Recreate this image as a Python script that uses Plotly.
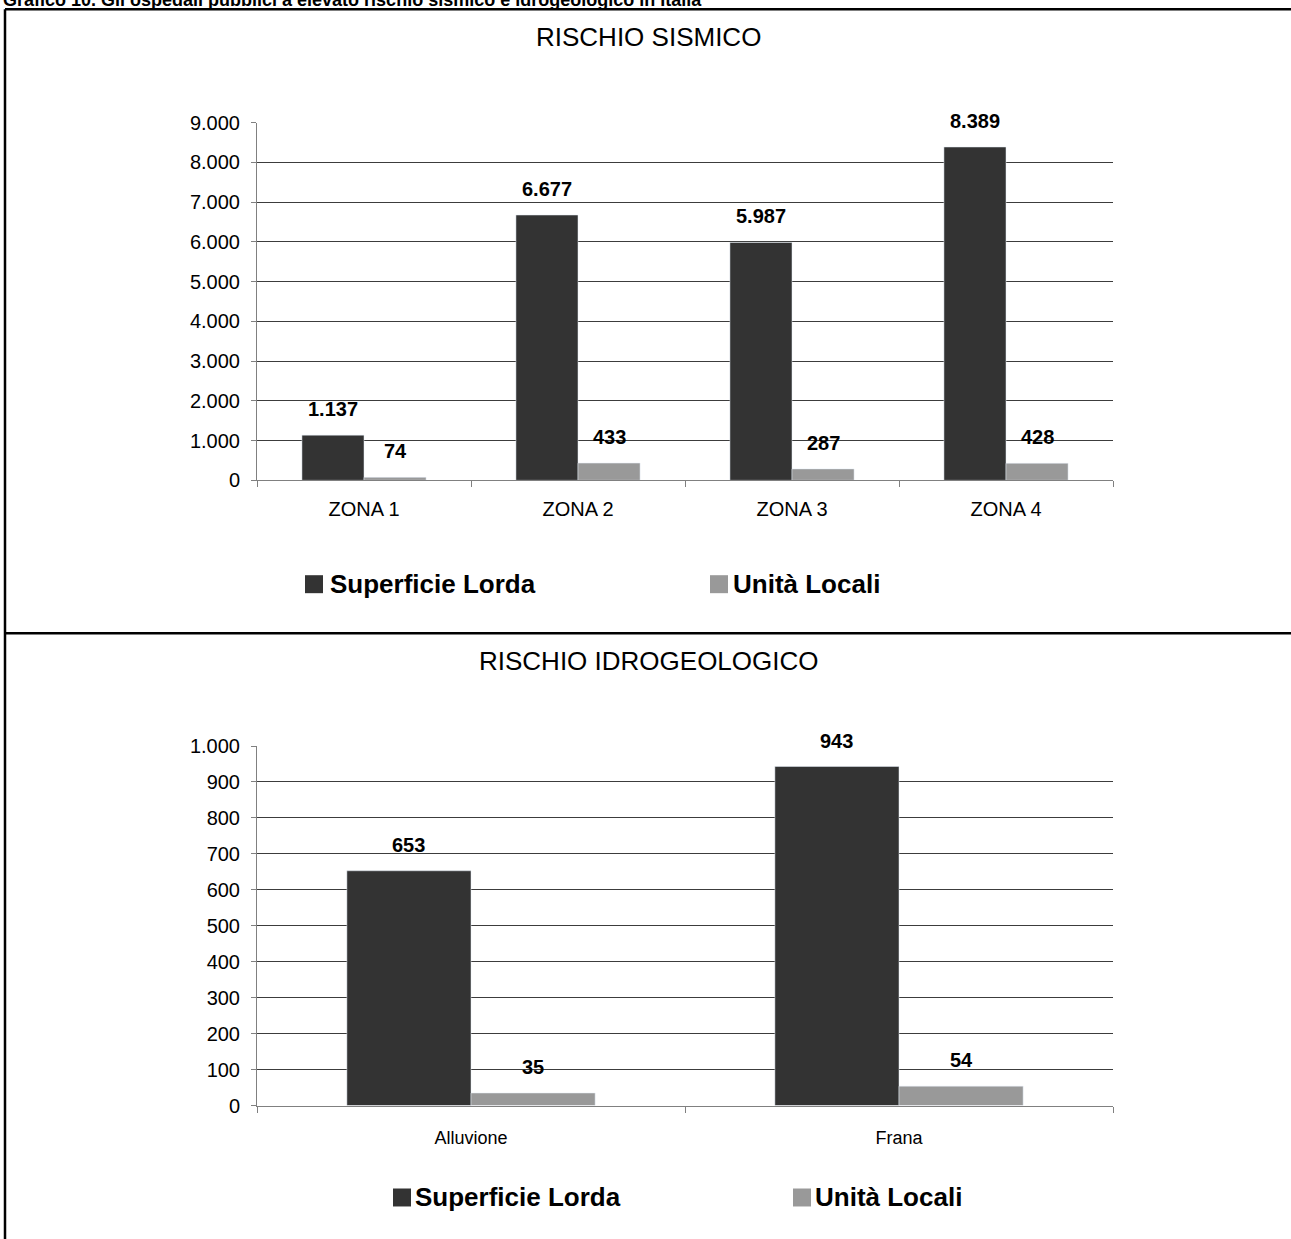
import plotly.graph_objects as go

# --- data -------------------------------------------------------------
zone = ["ZONA 1", "ZONA 2", "ZONA 3", "ZONA 4"]
superficie_sismico = [1137, 6677, 5987, 8389]
unita_sismico = [74, 433, 287, 428]

eventi_idro = ["Alluvione", "Frana"]
superficie_idro = [653, 943]
unita_idro = [35, 54]

serie = ["Superficie Lorda", "Unità Locali"]
titolo = "Grafico 10. Gli ospedali pubblici a elevato rischio sismico e idrogeologico in Italia"
titolo_sismico = "RISCHIO SISMICO"
titolo_idro = "RISCHIO IDROGEOLOGICO"

# --- styling ----------------------------------------------------------
W, H = 1291, 1255
# the page places the figure slightly lower and a bit shorter than its nominal size
PAGE_SCALE, PAGE_TOP = 0.9836, 9.15
FONT = "Liberation Sans, Arial, sans-serif"
DARK = "#333333"
GREY = "#999999"
AXIS = "#808080"
GRID = "#3c3c3c"
BARGAP = 0.42


def px(x):
    return x / W


def py(y):
    # page pixel row -> paper fraction
    return 1 - ((y - PAGE_TOP) / PAGE_SCALE) / H


X_DOM = [px(257), px(1113)]
Y_DOM_TOP = [py(479), py(121)]
Y_DOM_BOT = [py(1105), py(745)]


def it(v):
    return f"{v:,}".replace(",", ".")


fig = go.Figure()

fig.add_trace(go.Bar(x=zone, y=superficie_sismico, name=serie[0], marker_color=DARK,
                     xaxis="x", yaxis="y", showlegend=False))
fig.add_trace(go.Bar(x=zone, y=unita_sismico, name=serie[1], marker_color=GREY,
                     xaxis="x", yaxis="y", showlegend=False))
fig.add_trace(go.Bar(x=eventi_idro, y=superficie_idro, name=serie[0], marker_color=DARK,
                     xaxis="x2", yaxis="y2", showlegend=False))
fig.add_trace(go.Bar(x=eventi_idro, y=unita_idro, name=serie[1], marker_color=GREY,
                     xaxis="x2", yaxis="y2", showlegend=False))

annotations = []
shapes = []


def value_labels(cats, s1, s2, xref, yref):
    plot_w = (X_DOM[1] - X_DOM[0]) * W
    bar_w = plot_w / len(cats) * (1 - BARGAP) / 2
    for c, a, b in zip(cats, s1, s2):
        for v, sh in ((a, -bar_w / 2), (b, bar_w / 2)):
            annotations.append(dict(
                x=c, y=v, xref=xref, yref=yref, text=f"<b>{it(v)}</b>",
                showarrow=False, xanchor="center", yanchor="bottom",
                xshift=sh, yshift=13,
                font=dict(family=FONT, size=20, color="#000000")))


value_labels(zone, superficie_sismico, unita_sismico, "x", "y")
value_labels(eventi_idro, superficie_idro, unita_idro, "x2", "y2")

# chart titles
annotations.append(dict(x=px(648), y=py(35), xref="paper", yref="paper", text=titolo_sismico,
                        showarrow=False, xanchor="center", yanchor="middle",
                        font=dict(family=FONT, size=26, color="#000000")))
annotations.append(dict(x=px(649), y=py(660), xref="paper", yref="paper", text=titolo_idro,
                        showarrow=False, xanchor="center", yanchor="middle",
                        font=dict(family=FONT, size=26, color="#000000")))

# heading, cut by the top edge of the page
annotations.append(dict(x=px(1), y=py(10), xref="paper", yref="paper", text=f"<b>{titolo}</b>",
                        showarrow=False, xanchor="left", yanchor="bottom",
                        font=dict(family=FONT, size=18, color="#000000")))


# legends drawn as swatch + label
def legend(yc, items):
    for (sx, tx), name, col in zip(items, serie, (DARK, GREY)):
        shapes.append(dict(type="rect", xref="paper", yref="paper",
                           x0=px(sx), x1=px(sx + 18), y0=py(yc + 9), y1=py(yc - 9),
                           fillcolor=col, line=dict(width=0)))
        annotations.append(dict(x=px(tx), y=py(yc), xref="paper", yref="paper",
                                text=f"<b>{name}</b>", showarrow=False,
                                xanchor="left", yanchor="middle",
                                font=dict(family=FONT, size=26, color="#000000")))


legend(583, [(305, 328), (710, 731)])
legend(1197, [(393, 413), (793, 813)])

# frame lines
frame = dict(type="line", xref="paper", yref="paper", line=dict(color="#000000", width=2.5))
shapes.append(dict(frame, x0=px(5), x1=1, y0=py(7.5), y1=py(7.5)))
shapes.append(dict(frame, x0=px(5), x1=px(5), y0=py(7.5), y1=0))
shapes.append(dict(frame, x0=px(5), x1=1, y0=py(632), y1=py(632)))

xaxis_style = dict(type="category", showline=True, linecolor=AXIS, linewidth=1,
                   ticks="outside", tickson="boundaries", ticklen=6, tickcolor=AXIS,
                   showgrid=False, zeroline=False, ticklabelstandoff=11,
                   tickfont=dict(family=FONT, size=20, color="#000000"), fixedrange=True)
yaxis_style = dict(showline=True, linecolor=AXIS, linewidth=1, ticks="outside", ticklen=5,
                   tickcolor=AXIS, showgrid=True, gridcolor=GRID, gridwidth=1, zeroline=False,
                   tickformat=",d", ticklabelstandoff=7,
                   tickfont=dict(family=FONT, size=20, color="#000000"), fixedrange=True)

fig.update_layout(
    width=W, height=H, margin=dict(l=0, r=0, t=0, b=0),
    paper_bgcolor="white", plot_bgcolor="white",
    separators=",.", barmode="group", bargap=BARGAP, bargroupgap=0,
    xaxis=dict(xaxis_style, domain=X_DOM, anchor="y"),
    yaxis=dict(yaxis_style, domain=Y_DOM_TOP, anchor="x", range=[0, 9000], dtick=1000),
    xaxis2=dict(xaxis_style, domain=X_DOM, anchor="y2", ticklabelstandoff=16,
                tickfont=dict(family=FONT, size=18, color="#000000")),
    yaxis2=dict(yaxis_style, domain=Y_DOM_BOT, anchor="x2", range=[0, 1000], dtick=100),
    annotations=annotations, shapes=shapes, showlegend=False,
)

fig.write_html("out.html")
